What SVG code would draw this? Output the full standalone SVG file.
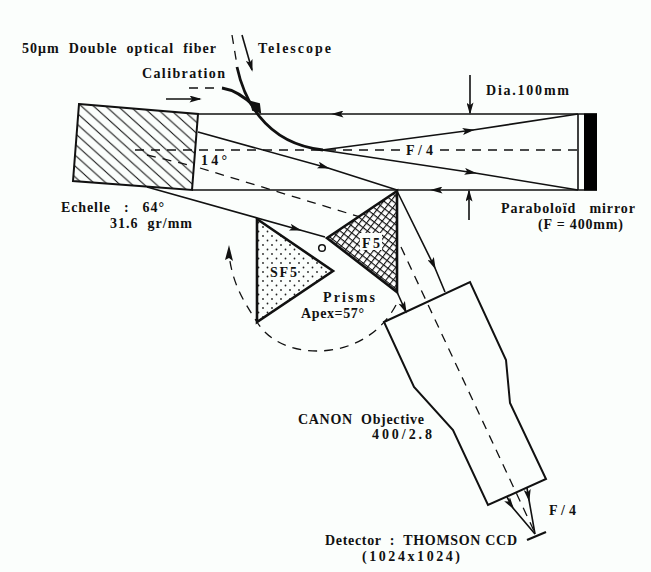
<svg xmlns="http://www.w3.org/2000/svg" width="651" height="572" viewBox="0 0 651 572">
<style>
text{font-family:"Liberation Serif","Times New Roman",serif;font-weight:bold;font-size:14px;fill:#111;white-space:pre}
.s{fill:none;stroke:#111;stroke-width:1.6}
.t{fill:none;stroke:#111;stroke-width:2.4}
.d{fill:none;stroke:#111;stroke-width:1.3;stroke-dasharray:9 7}
.a{marker-end:url(#h)}
.m{marker-mid:url(#h)}
</style>
<defs>
<marker id="h" viewBox="0 0 14 8" refX="12" refY="4" markerWidth="14" markerHeight="7" markerUnits="userSpaceOnUse" orient="auto"><path d="M0 0L14 4L0 8L3 4Z" fill="#111"/></marker>
<pattern id="hatch" width="11.5" height="11.5" patternUnits="userSpaceOnUse" patternTransform="rotate(-3)"><path d="M-1 -1L12.5 12.5M-12.5 -1L1 12.5M10.5 -1L24 12.5" stroke="#111" stroke-width="1.1" fill="none"/></pattern>
<pattern id="cross" width="5.6" height="5.6" patternUnits="userSpaceOnUse" patternTransform="rotate(38)"><rect width="5.6" height="5.6" fill="#fff"/><path d="M0 0H5.6M0 0V5.6" stroke="#111" stroke-width="2.2"/></pattern>
<pattern id="dots" width="9" height="9" patternUnits="userSpaceOnUse"><circle cx="2" cy="2" r="0.900" fill="#222"/><circle cx="6.500" cy="6.500" r="0.900" fill="#222"/></pattern>
</defs>
<rect width="651" height="572" fill="#fbfefc"/>
<g id="connectors">
<path class="s m" d="M597 114H333H198"/>
<path class="s m" d="M597 190H432H192"/>
<path class="s" d="M578 114V190"/>
<path class="s m" d="M322 150L473 130L578 114"/>
<path class="s m" d="M322 150L475 173L578 190"/>
<path class="s m" d="M198 132L328 168L397 190"/>
<path class="s m" d="M147 187L300 230L325 237"/>
<path class="s m" d="M397 191L435 268L445 292"/>
<path class="s a" d="M397 292L406 312"/>
<path class="d" d="M135 150H400M440 150H578"/>
<path class="d" d="M147 155L193 166"/>
<path class="d" d="M200 168L370 220"/>
<path class="d" d="M401 247L535 533"/>
<path class="s a" d="M242 35L252 70"/>
<path class="d" d="M232 35L237 65"/>
<path class="d" d="M189 88H217"/>
<path class="s a" d="M166 99H200"/>
<path d="M237 67C243 95 262 143 323 150" fill="none" stroke="#111" stroke-width="2.800"/>
<path d="M222 88C235 90 246 98 255 107" fill="none" stroke="#111" stroke-width="3"/>
<path d="M251 102L259 104L260 112L253 110Z" fill="#111" stroke="#111" stroke-width="2"/>
<path class="s a" d="M470 75V113"/>
<path class="s a" d="M469 220V191"/>
<path class="d" d="M396 305C380 335 350 351 317 351C290 351 268 340 257 322C243 300 233 285 229 255"/>
<path d="M229 245L233 261L229 258L225 260Z" fill="#111"/>
<path class="s m" d="M507 497L513 508L535 534"/>
<path class="s m" d="M527 488L529 500L535 534"/>
</g>
<g id="echelle"><path d="M79 104L198 114L192 190L73 181Z" fill="url(#hatch)" stroke="#111" stroke-width="2"/></g>
<g id="mirror"><rect x="584" y="113.500" width="13" height="77" fill="#000"/></g>
<g id="prism-sf5"><path d="M257 219L333 271L257 322Z" fill="url(#dots)" stroke="#111" stroke-width="2.600"/><rect x="269" y="266" width="29" height="13" fill="#fbfefc"/><text x="270" y="277" textLength="27" lengthAdjust="spacing">SF5</text></g>
<g id="prism-f5"><path d="M397 191L327 238L397 292Z" fill="url(#cross)" stroke="#111" stroke-width="2.600"/><rect x="360" y="233" width="22" height="17" fill="#fbfefc"/><text x="362" y="248" textLength="18" lengthAdjust="spacing">F5</text></g>
<g id="pivot"><circle cx="322" cy="248" r="3.300" fill="none" stroke="#111" stroke-width="1.500"/></g>
<g id="objective"><path d="M384 322L470 282L506 360L510 403L546 479L488 505L453 430L414 387Z" fill="none" stroke="#111" stroke-width="2"/></g>
<g id="detector"><path d="M527 540L546 532" class="t"/></g>
<g id="labels">
<text x="22" y="53" textLength="194" lengthAdjust="spacing">50μm  Double  optical  fiber</text>
<text x="258" y="53" textLength="73" lengthAdjust="spacing">Telescope</text>
<text x="142" y="78" textLength="83" lengthAdjust="spacing">Calibration</text>
<text x="486" y="95" textLength="83" lengthAdjust="spacing">Dia.100mm</text>
<text x="406" y="155" textLength="27" lengthAdjust="spacing">F / 4</text>
<text x="201" y="165" textLength="26" lengthAdjust="spacing">14°</text>
<text x="61" y="212" textLength="103" lengthAdjust="spacing">Echelle   :   64°</text>
<text x="110" y="228" textLength="82" lengthAdjust="spacing">31.6  gr/mm</text>
<text x="501" y="213" textLength="134" lengthAdjust="spacing">Paraboloïd   mirror</text>
<text x="538" y="229" textLength="85" lengthAdjust="spacing">(F = 400mm)</text>
<text x="323" y="302" textLength="52" lengthAdjust="spacing">Prisms</text>
<text x="301" y="318" textLength="63" lengthAdjust="spacing">Apex=57°</text>
<text x="298" y="424" textLength="126" lengthAdjust="spacing">CANON  Objective</text>
<text x="372" y="439" textLength="60" lengthAdjust="spacing">400/2.8</text>
<text x="549" y="515" textLength="27" lengthAdjust="spacing">F / 4</text>
<text x="325" y="545" textLength="192" lengthAdjust="spacing">Detector  :  THOMSON CCD</text>
<text x="362" y="561" textLength="98" lengthAdjust="spacing">(1024x1024)</text>
</g>
</svg>
